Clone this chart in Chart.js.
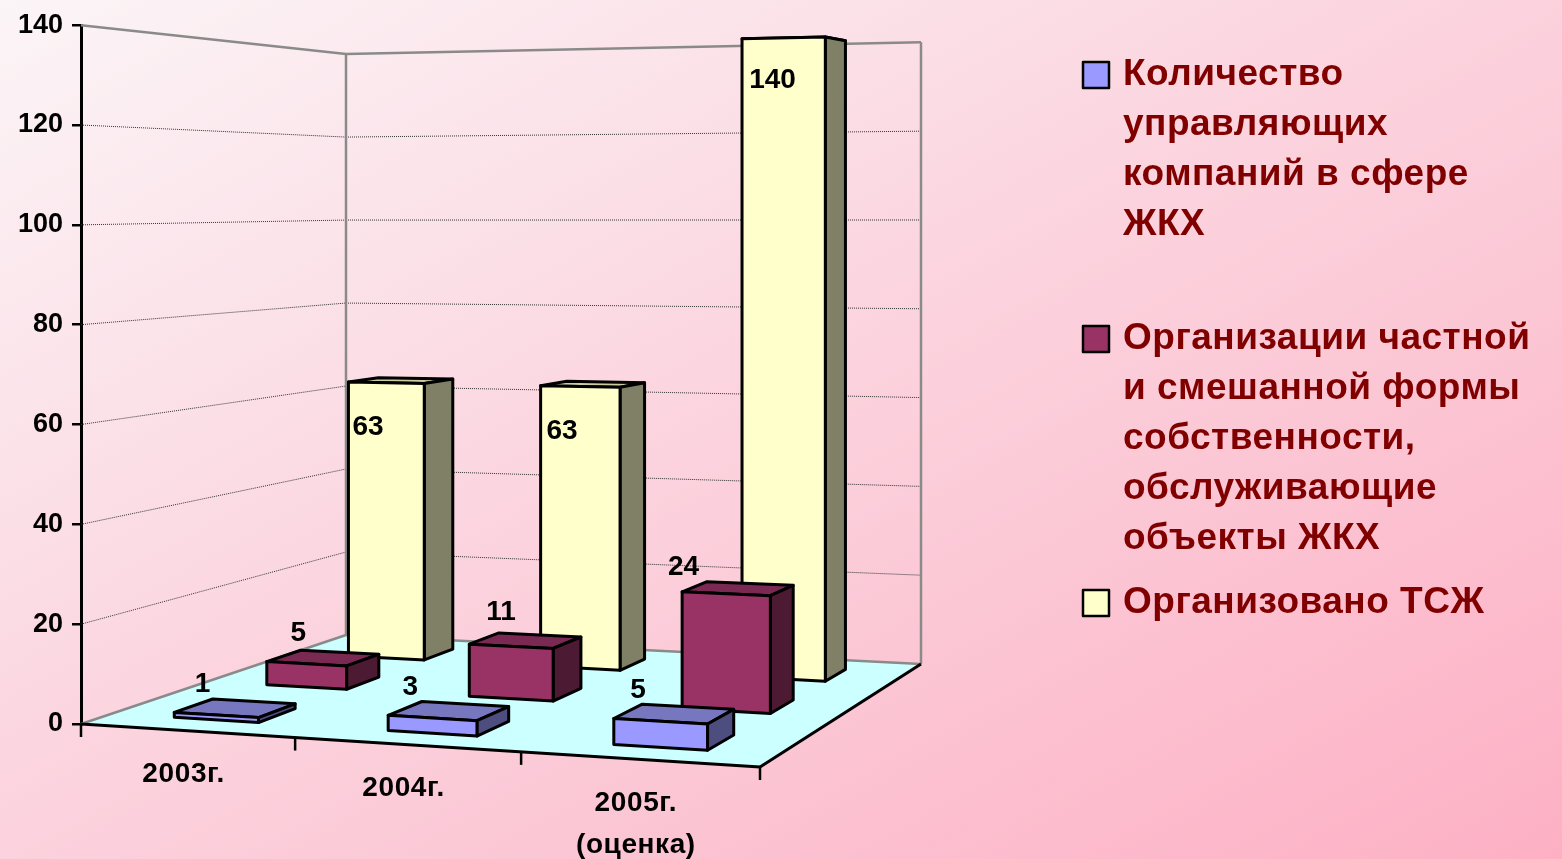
<!DOCTYPE html>
<html lang="ru">
<head>
<meta charset="utf-8">
<title>ЖКХ</title>
<script src="https://cdn.jsdelivr.net/npm/chart.js@4"></script>
<style>
html,body{margin:0;padding:0;width:1562px;height:859px;overflow:hidden;
background:linear-gradient(to bottom right,#fbf5f7 0%,#fbd3de 48%,#fdb0c4 100%);}
#wrap{position:absolute;left:0;top:0;width:1562px;height:859px;}
</style>
</head>
<body>
<div id="wrap"><canvas id="c" width="1562" height="859"></canvas></div>
<script>
const categories = ['2003г.', '2004г.', '2005г.\n(оценка)'];
const managers = [1, 3, 5];
const privateOrgs = [5, 11, 24];
const tsj = [63, 63, 140];
const seriesNames = [
  ['Количество', 'управляющих', 'компаний в сфере', 'ЖКХ'],
  ['Организации частной', 'и смешанной формы', 'собственности,', 'обслуживающие', 'объекты ЖКХ'],
  ['Организовано ТСЖ']
];
const yTicks = { min: 0, max: 140, step: 20 };

// styles
const FONT = '"Liberation Sans", Arial, sans-serif';
const faces = [
  { front: '#9999ff', top: '#7777bf', side: '#4d4d80' },
  { front: '#993366', top: '#7a2952', side: '#4d1a33' },
  { front: '#ffffcc', top: '#ccccA3', side: '#808066' }
];
// label nudges relative to the projected top-of-bar point [series][category]
const labelNudge = [
  [[6, -38], [-5, -38], [-8, -38]],
  [[9, -36], [5, -40], [-30, -32]],
  [[-3, 42], [-5, 42], [0, 44]]
];

// camera: where the floor's far corners land, relative to the plot's front-left corner
const FRONT_DROP = 43, BACK_RIGHT = [840, -60], BACK_LEFT = [265, -89];
const DEPTH_RATIO = 0.4;

function camera(chart) {
  const xs = chart.scales.x, ys = chart.scales.y;
  const A = [xs.left, ys.bottom], B = [xs.right, ys.bottom + FRONT_DROP];
  const C = [xs.left + BACK_RIGHT[0], ys.bottom + BACK_RIGHT[1]];
  const D = [xs.left + BACK_LEFT[0], ys.bottom + BACK_LEFT[1]];
  const sx = A[0] - B[0] + C[0] - D[0], sy = A[1] - B[1] + C[1] - D[1];
  const dx1 = B[0] - C[0], dx2 = D[0] - C[0], dy1 = B[1] - C[1], dy2 = D[1] - C[1];
  const det = dx1 * dy2 - dx2 * dy1;
  const g = (sx * dy2 - dx2 * sy) / det, h = (dx1 * sy - sx * dy1) / det;
  const a = B[0] - A[0] + g * B[0], b = D[0] - A[0] + h * D[0];
  const d = B[1] - A[1] + g * B[1], e = D[1] - A[1] + h * D[1];
  return (u, v, val) => {
    const w = g * u + h * v + 1;
    const lift = ys.getPixelForValue(0) - ys.getPixelForValue(val);
    return [(a * u + b * v + A[0]) / w, (d * u + e * v + A[1] - lift) / w];
  };
}
function poly(ctx, pts, fill, stroke, lw) {
  ctx.beginPath();
  pts.forEach((p, i) => i ? ctx.lineTo(p[0], p[1]) : ctx.moveTo(p[0], p[1]));
  ctx.closePath();
  if (fill) { ctx.fillStyle = fill; ctx.fill(); }
  if (stroke) { ctx.strokeStyle = stroke; ctx.lineWidth = lw; ctx.lineJoin = 'round'; ctx.stroke(); }
}
function seg(ctx, p, q, color, lw, dash) {
  ctx.beginPath(); ctx.setLineDash(dash || []);
  ctx.moveTo(p[0], p[1]); ctx.lineTo(q[0], q[1]);
  ctx.strokeStyle = color; ctx.lineWidth = lw; ctx.stroke(); ctx.setLineDash([]);
}

const scene3d = {
  id: 'scene3d',
  beforeDatasetDraw() { return false; },
  beforeDatasetsDraw(chart) {
    const ctx = chart.ctx, P = camera(chart), ys = chart.scales.y, xs = chart.scales.x;
    const top = ys.max;
    ctx.save();
    poly(ctx, [P(0,0,0), P(1,0,0), P(1,1,0), P(0,1,0)], '#ccffff');
    ys.ticks.forEach(t => {
      if (t.value === 0 || t.value === top) return;
      seg(ctx, P(0,0,t.value), P(0,1,t.value), '#333', 1, [1, 1]);
      seg(ctx, P(0,1,t.value), P(1,1,t.value), '#333', 1, [1, 1]);
    });
    const grey = '#8a8a8a';
    seg(ctx, P(0,0,top), P(0,1,top), grey, 2.5);
    seg(ctx, P(0,1,top), P(1,1,top), grey, 2.5);
    seg(ctx, P(0,1,0), P(0,1,top), grey, 2.5);
    seg(ctx, P(1,1,0), P(1,1,top), grey, 2.5);
    seg(ctx, P(0,0,0), P(0,1,0), grey, 2.5);
    seg(ctx, P(0,1,0), P(1,1,0), grey, 2.5);
    seg(ctx, P(0,0,0), P(1,0,0), '#000', 3);
    seg(ctx, P(1,0,0), P(1,1,0), '#000', 3);
    // category ticks along the sloped front edge
    const n = categories.length;
    for (let i = 0; i <= n; i++) {
      const p = P(i / n, 0, 0);
      seg(ctx, p, [p[0], p[1] + 13], '#000', 2.5);
    }
    // category labels
    ctx.font = 'bold 28px ' + FONT;
    ctx.fillStyle = '#000';
    ctx.textAlign = 'center'; ctx.textBaseline = 'middle';
    ctx.letterSpacing = '0.6px';
    categories.forEach((c, i) => {
      const u = (xs.getPixelForValue(i) - xs.left) / xs.width;
      const p = P(u, 0, 0);
      c.split('\n').forEach((line, k) => ctx.fillText(line, p[0] - 3, p[1] + 44 + k * 42));
    });
    ctx.restore();
  },
  afterDatasetsDraw(chart) {
    const ctx = chart.ctx, P = camera(chart), xs = chart.scales.x;
    const rows = chart.data.datasets.length;
    ctx.save();
    for (let s = rows - 1; s >= 0; s--) {
      const meta = chart.getDatasetMeta(s), col = faces[s];
      meta.data.forEach((el, i) => {
        const val = chart.data.datasets[s].data[i];
        const u0 = (el.x - el.width / 2 - xs.left) / xs.width;
        const u1 = (el.x + el.width / 2 - xs.left) / xs.width;
        const v0 = (s + 0.5 - DEPTH_RATIO / 2 * 1) / rows - 0;
        const v1 = (s + 0.5 + DEPTH_RATIO / 2 * 1) / rows;
        poly(ctx, [P(u0,v0,val), P(u1,v0,val), P(u1,v1,val), P(u0,v1,val)], col.top, '#000', 3);
        poly(ctx, [P(u1,v0,0), P(u1,v1,0), P(u1,v1,val), P(u1,v0,val)], col.side, '#000', 3);
        poly(ctx, [P(u0,v0,0), P(u1,v0,0), P(u1,v0,val), P(u0,v0,val)], col.front, '#000', 3);
      });
    }
    // value labels
    ctx.font = 'bold 28px ' + FONT;
    ctx.fillStyle = '#000';
    ctx.textAlign = 'center'; ctx.textBaseline = 'middle';
    for (let s = 0; s < rows; s++) {
      const meta = chart.getDatasetMeta(s);
      meta.data.forEach((el, i) => {
        const val = chart.data.datasets[s].data[i];
        const u = (el.x - xs.left) / xs.width;
        const p = P(u, s / rows + 0.1 / rows * 3 * 0.333, val);
        ctx.fillText(String(val), p[0] + labelNudge[s][i][0], p[1] + labelNudge[s][i][1]);
      });
    }
    // legend
    const LX = 1083, TX = 1123, LINE = 50, GAP = 14, BOX = 26;
    let y = 75;
    ctx.font = 'bold 37px ' + FONT;
    ctx.textAlign = 'left';
    ctx.letterSpacing = '0.5px';
    seriesNames.forEach((lines, s) => {
      ctx.fillStyle = faces[s].front;
      ctx.strokeStyle = '#000'; ctx.lineWidth = 2.5;
      ctx.fillRect(LX, y - BOX / 2, BOX, BOX);
      ctx.strokeRect(LX, y - BOX / 2, BOX, BOX);
      ctx.fillStyle = '#800000';
      lines.forEach((line, k) => ctx.fillText(line, TX, y + k * LINE));
      y += 5 * LINE + GAP;
    });
    ctx.restore();
  }
};

new Chart(document.getElementById('c'), {
  type: 'bar',
  data: {
    labels: categories.map(c => c.replace('\n', ' ')),
    datasets: [
      { label: seriesNames[0].join(' '), data: managers, backgroundColor: faces[0].front },
      { label: seriesNames[1].join(' '), data: privateOrgs, backgroundColor: faces[1].front },
      { label: seriesNames[2].join(' '), data: tsj, backgroundColor: faces[2].front }
    ]
  },
  options: {
    responsive: false,
    animation: false,
    grouped: false,
    barPercentage: 0.4,
    categoryPercentage: 1,
    layout: { padding: { left: 0, top: 23, right: 802, bottom: 135 } },
    plugins: { legend: { display: false }, tooltip: { enabled: false }, title: { display: false } },
    scales: {
      x: { display: false, offset: true, grid: { display: false } },
      y: {
        min: yTicks.min, max: yTicks.max,
        afterFit(scale) { scale.width = 81; },
        border: { color: '#000', width: 3 },
        grid: { drawOnChartArea: false, color: '#000', lineWidth: 2.5, tickLength: 9 },
        ticks: {
          stepSize: yTicks.step, color: '#000', padding: 9,
          font: { family: FONT, size: 27, weight: 'bold' }
        }
      }
    }
  },
  plugins: [scene3d]
});
</script>
</body>
</html>
